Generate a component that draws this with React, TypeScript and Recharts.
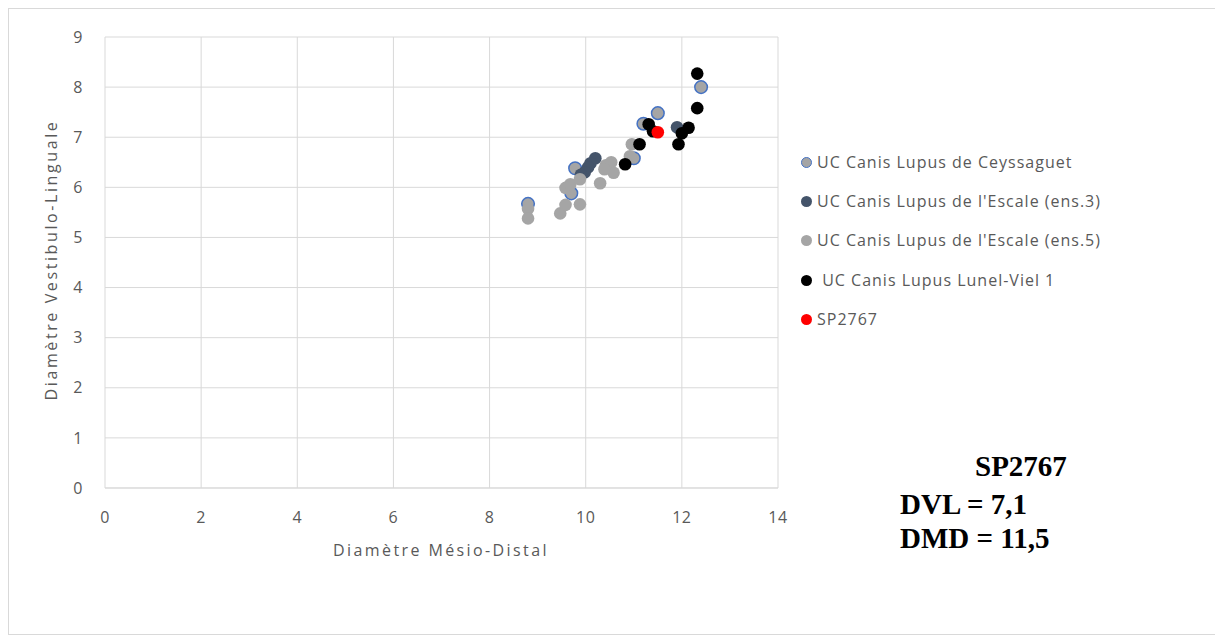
import React from 'react';
import { ScatterChart, Scatter, XAxis, YAxis, CartesianGrid } from 'recharts';

const xTicks = [0, 2, 4, 6, 8, 10, 12, 14];
const yTicks = [0, 1, 2, 3, 4, 5, 6, 7, 8, 9];

const ceyssaguet = [
  { x: 12.4, y: 8.0 }, { x: 11.5, y: 7.48 }, { x: 11.2, y: 7.27 }, { x: 11.0, y: 6.58 },
  { x: 9.78, y: 6.38 }, { x: 9.7, y: 5.88 }, { x: 8.8, y: 5.67 },
];
const escale3 = [
  { x: 11.9, y: 7.2 }, { x: 10.2, y: 6.58 }, { x: 10.1, y: 6.48 }, { x: 10.05, y: 6.4 },
  { x: 9.98, y: 6.3 }, { x: 9.9, y: 6.25 },
];
const escale5 = [
  { x: 8.8, y: 5.57 }, { x: 8.8, y: 5.38 }, { x: 9.47, y: 5.48 }, { x: 9.58, y: 5.65 },
  { x: 9.88, y: 5.66 }, { x: 9.58, y: 5.99 }, { x: 9.68, y: 6.06 }, { x: 9.88, y: 6.16 },
  { x: 10.3, y: 6.08 }, { x: 10.42, y: 6.44 }, { x: 10.53, y: 6.5 }, { x: 10.58, y: 6.29 },
  { x: 10.39, y: 6.36 }, { x: 10.96, y: 6.86 }, { x: 10.92, y: 6.62 },
];
const lunel = [
  { x: 12.32, y: 8.27 }, { x: 12.32, y: 7.58 }, { x: 12.14, y: 7.19 }, { x: 12.0, y: 7.08 },
  { x: 11.93, y: 6.86 }, { x: 11.31, y: 7.26 }, { x: 11.4, y: 7.12 }, { x: 11.12, y: 6.86 },
  { x: 10.82, y: 6.46 },
];
const sp2767 = [{ x: 11.5, y: 7.1 }];

const seriesNames = [
  'UC Canis Lupus de Ceyssaguet',
  "UC Canis Lupus de l'Escale (ens.3)",
  "UC Canis Lupus de l'Escale (ens.5)",
  ' UC Canis Lupus Lunel-Viel 1',
  'SP2767',
];
const seriesData = [ceyssaguet, escale3, escale5, lunel, sp2767];
const seriesFill = ['#A5A5A5', '#44546A', '#A5A5A5', '#000000', '#FF0000'];
const seriesStroke = ['#4472C4', 'none', 'none', 'none', 'none'];

const xTitle = 'Diamètre Mésio-Distal';
const yTitle = 'Diamètre Vestibulo-Linguale';
const noteLines = ['SP2767', 'DVL = 7,1', 'DMD = 11,5'];

const legendY = [153, 192, 231, 271, 310];

const makeShape = (fill: string, stroke: string) => (props: any) => (
  <circle cx={props.cx} cy={props.cy} r={6.3} fill={fill} stroke={stroke} strokeWidth={stroke === 'none' ? 0 : 1.5} />
);

export default function App() {
  const tickStyle = { fill: '#595959', fontSize: 16, fontFamily: 'Open Sans', letterSpacing: 0.5 };
  return (
    <div style={{ position: 'relative', width: 1215, height: 627, border: '1px solid #D9D9D9', boxSizing: 'border-box', background: '#fff' }}>
      <ScatterChart width={1213} height={625} margin={{ top: 28, left: 0, right: 444, bottom: 0 }}>
        <CartesianGrid stroke="#D9D9D9" strokeWidth={1} />
        <XAxis type="number" dataKey="x" domain={[0, 14]} ticks={xTicks} height={146}
          axisLine={{ stroke: '#D9D9D9' }} tickLine={false} tickMargin={18} tick={tickStyle} interval={0} />
        <YAxis type="number" dataKey="y" domain={[0, 9]} ticks={yTicks} width={96}
          axisLine={false} tickLine={false} tickMargin={16} tick={tickStyle} interval={0} />
        {seriesData.map((d, i) => (
          <Scatter key={i} name={seriesNames[i]} data={d} fill={seriesFill[i]}
            shape={makeShape(seriesFill[i], seriesStroke[i])} isAnimationActive={false} />
        ))}
      </ScatterChart>
      <svg width={1213} height={625} style={{ position: 'absolute', left: 0, top: 0, pointerEvents: 'none' }}>
        <text x={432} y={547} textAnchor="middle" fill="#595959" fontSize={16} fontFamily="Open Sans" letterSpacing={2.4}>{xTitle}</text>
        <text transform="translate(48,251) rotate(-90)" textAnchor="middle" fill="#595959" fontSize={16} fontFamily="Open Sans" letterSpacing={2.6}>{yTitle}</text>
        <text x={966} y={467} fill="#000" fontSize={29} fontWeight="bold" fontFamily="Liberation Serif">{noteLines[0]}</text>
        <text x={891} y={505} fill="#000" fontSize={29} fontWeight="bold" fontFamily="Liberation Serif">{noteLines[1]}</text>
        <text x={891} y={539} fill="#000" fontSize={29} fontWeight="bold" fontFamily="Liberation Serif">{noteLines[2]}</text>
      </svg>
      {seriesNames.map((n, i) => (
        <div key={i} style={{ position: 'absolute', left: 792, top: legendY[i] - 10, height: 20, display: 'flex', alignItems: 'center' }}>
          <span style={{ display: 'inline-block', width: 11, height: 11, borderRadius: '50%', boxSizing: 'border-box', background: seriesFill[i], border: seriesStroke[i] === 'none' ? 'none' : `1.5px solid ${seriesStroke[i]}` }} />
          <span style={{ marginLeft: 5, fontFamily: 'Open Sans', fontSize: 16, letterSpacing: 1, color: '#595959', whiteSpace: 'pre' }}>{n}</span>
        </div>
      ))}
    </div>
  );
}
